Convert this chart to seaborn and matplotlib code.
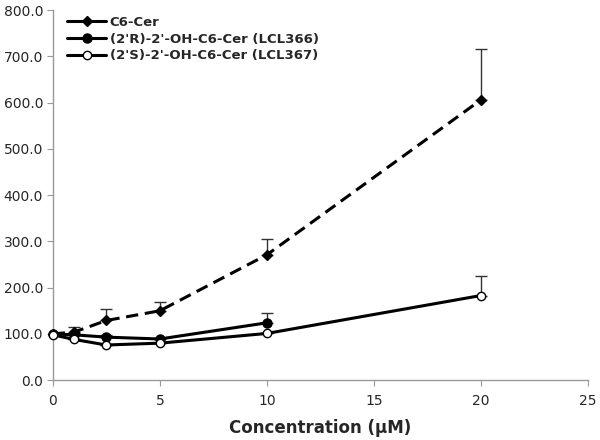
import pandas as pd
import matplotlib
matplotlib.use('Agg')
import matplotlib.pyplot as plt
from matplotlib.lines import Line2D
import seaborn as sns

# Data
conc_c6 = [0, 1, 2.5, 5, 10, 20]
c6_cer = [100, 104, 129, 150, 271, 606]
c6_err = [0, 11, 24, 19, 34, 109]

conc_r = [0, 1, 2.5, 5, 10]
lcl366 = [100, 98, 93, 89, 124]
lcl366_err = [0, 4, 4, 3, 22]

conc_s = [0, 1, 2.5, 5, 10, 20]
lcl367 = [98, 88, 76, 80, 101, 183]
lcl367_err = [0, 0, 0, 0, 0, 42]

names = ['C6-Cer', "(2'R)-2'-OH-C6-Cer (LCL366)", "(2'S)-2'-OH-C6-Cer (LCL367)"]

sns.set_style('white')
plt.rcParams['font.family'] = ['DejaVu Sans']

fig = plt.figure(figsize=(6, 4.4), dpi=100)
ax = fig.add_axes([0.088, 0.136, 0.892, 0.841])

series = [
    (conc_c6, c6_cer, c6_err, 'D', 'black', (0, (4, 2.2)), 5.5),
    (conc_r, lcl366, lcl366_err, 'o', 'black', '-', 6.5),
    (conc_s, lcl367, lcl367_err, 'o', 'white', '-', 6),
]

handles = []
for name, (x, y, err, mk, mfc, ls, ms) in zip(names, series):
    df = pd.DataFrame({'conc': x, 'val': y})
    ax.errorbar(x, y, yerr=[[0] * len(err), err], fmt='none', ecolor='#333333',
                elinewidth=1.0, capsize=4, capthick=1.0, zorder=1)
    sns.lineplot(data=df, x='conc', y='val', ax=ax, color='black', linewidth=2.2,
                 linestyle=ls, marker=mk, markersize=ms, markerfacecolor=mfc,
                 markeredgecolor='black', markeredgewidth=1.0, zorder=3,
                 clip_on=False)
    handles.append(Line2D([], [], color='black', linewidth=2.2, marker=mk,
                          markersize=ms, markerfacecolor=mfc,
                          markeredgecolor='black', markeredgewidth=1.0, label=name))

ax.set_xlim(0, 25)
ax.set_ylim(0, 800)
ax.set_xticks([0, 5, 10, 15, 20, 25])
ax.set_yticks(range(0, 801, 100))
ax.set_yticklabels([f'{v:.1f}' for v in range(0, 801, 100)])
ax.tick_params(axis='both', labelsize=10, length=4, color='#999999', direction='out',
               left=True, bottom=True, pad=3)
ax.tick_params(axis='x', pad=6)
for s in ['top', 'right']:
    ax.spines[s].set_visible(False)
for s in ['left', 'bottom']:
    ax.spines[s].set_color('#999999')
    ax.spines[s].set_linewidth(1.0)

ax.set_xlabel('Concentration (μM)', fontsize=12, fontweight='bold', labelpad=8)
ax.set_ylabel('')

leg = ax.legend(handles=handles, loc='upper left', bbox_to_anchor=(0.015, 1.0),
                frameon=False, fontsize=9.5, handlelength=3.0, handletextpad=0.25,
                labelspacing=0.27, borderaxespad=0.05)
for t in leg.get_texts():
    t.set_fontweight('bold')

fig.savefig('out.png', dpi=100)
